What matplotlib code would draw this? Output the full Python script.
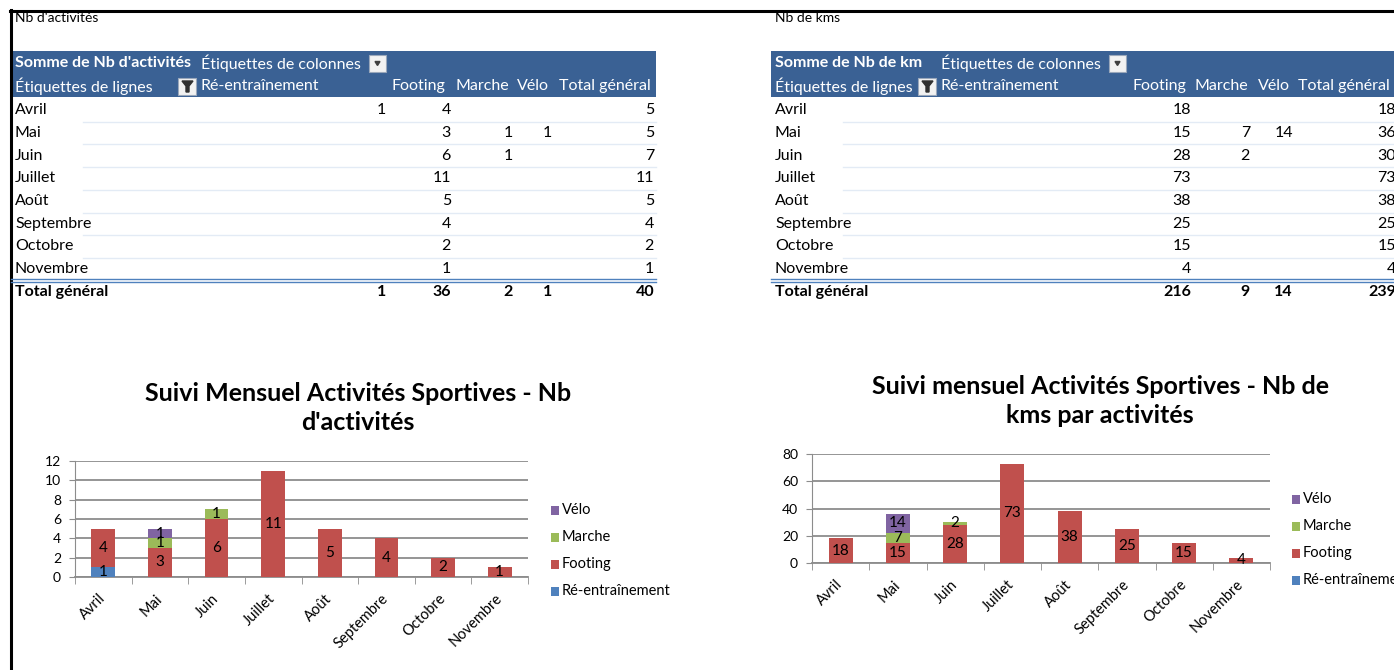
import matplotlib
matplotlib.use("Agg")
import matplotlib.pyplot as plt
from matplotlib.patches import Rectangle, Polygon
import numpy as np

plt.rcParams['font.family'] = ['Lato', 'DejaVu Sans']

# ---- data ----
months = ["Avril", "Mai", "Juin", "Juillet", "Août", "Septembre", "Octobre", "Novembre"]
activities = ["Ré-entraînement", "Footing", "Marche", "Vélo"]

nb_reentr = [1, None, None, None, None, None, None, None]
nb_footing = [4, 3, 6, 11, 5, 4, 2, 1]
nb_marche = [None, 1, 1, None, None, None, None, None]
nb_velo = [None, 1, None, None, None, None, None, None]

km_reentr = [None, None, None, None, None, None, None, None]
km_footing = [18, 15, 28, 73, 38, 25, 15, 4]
km_marche = [None, 7, 2, None, None, None, None, None]
km_velo = [None, 14, None, None, None, None, None, None]

colors = ["#4F81BD", "#C0504D", "#9BBB59", "#8064A2"]
header_blue = "#3A6194"
FS = 11.5

W, H = 1394, 670
fig = plt.figure(figsize=(W / 100, H / 100), dpi=100)
fig.patch.set_facecolor("white")

ov = fig.add_axes([0, 0, 1, 1])
ov.set_xlim(0, W)
ov.set_ylim(H, 0)
ov.axis("off")
ov.patch.set_alpha(0)

# frame lines of the screenshot
ov.plot([10, W], [10.5, 10.5], color="black", lw=2.2)
ov.plot([10.5, 10.5], [10, H], color="black", lw=2.2)


def fmt(v):
    return "" if v is None else str(v)


def col_sum(vals):
    s = [v for v in vals if v is not None]
    return sum(s) if s else None


def draw_table(x0, x1, caption, header, series, num_r, head_r, col_x, drop_x, filt_x):
    ov.text(x0 + 4, 18, caption, fontsize=10, va="center", ha="left")
    ov.add_patch(Rectangle((x0, 51), x1 - x0, 46, color=header_blue, lw=0))
    ov.text(x0 + 4, 63, header, fontsize=FS, color="white", weight="bold", va="center")
    ov.text(col_x, 63, "Étiquettes de colonnes", fontsize=FS, color="white", va="center")
    # dropdown box
    ov.add_patch(Rectangle((drop_x, 55), 17, 17, facecolor="#f2f2f2", edgecolor="#9aa8bb", lw=0.8))
    ov.add_patch(Polygon([[drop_x + 6, 61.5], [drop_x + 11, 61.5], [drop_x + 8.5, 65.5]], color="#404040"))
    ov.text(x0 + 4, 86, "Étiquettes de lignes", fontsize=FS, color="white", va="center")
    # filter icon
    ov.add_patch(Rectangle((filt_x, 78), 18, 17, facecolor="#f2f2f2", edgecolor="#9aa8bb", lw=0.8))
    ov.add_patch(Polygon([[filt_x + 4, 81], [filt_x + 15, 81], [filt_x + 11, 86], [filt_x + 11, 92],
                          [filt_x + 8, 92], [filt_x + 8, 86]], color="#303030"))
    ov.text(col_x, 86, activities[0], fontsize=FS, color="white", va="center")
    for name, xr in zip(activities[1:] + ["Total général"], head_r):
        ov.text(xr, 86, name, fontsize=FS, color="white", va="center", ha="right")

    row_h = 22.75
    for i, m in enumerate(months):
        y = 110 + i * row_h
        ov.text(x0 + 4, y, m, fontsize=FS, va="center")
        vals = [s[i] for s in series]
        row_total = col_sum(vals)
        for v, xr in zip(vals + [row_total], num_r):
            ov.text(xr, y, fmt(v), fontsize=FS, va="center", ha="right")
        if i < len(months) - 1:
            ov.plot([x0 + 72, x1], [y + 11.5, y + 11.5], color="#e3ebf5", lw=1)
    ov.plot([x0, x1], [278.5, 278.5], color="#4F81BD", lw=1)
    ov.plot([x0, x1], [281.5, 281.5], color="#4F81BD", lw=1)
    ov.text(x0 + 4, 292, "Total général", fontsize=FS, weight="bold", va="center")
    col_totals = [col_sum(s) for s in series]
    grand = col_sum(col_totals)
    for v, xr in zip(col_totals + [grand], num_r):
        ov.text(xr, 292, fmt(v), fontsize=FS, weight="bold", va="center", ha="right")


draw_table(11, 656, "Nb d'activités", "Somme de Nb d'activités",
           [nb_reentr, nb_footing, nb_marche, nb_velo],
           [386, 451, 513, 552, 654], [445, 509, 549, 651], 201, 369, 178)
draw_table(771, W, "Nb de kms", "Somme de Nb de km",
           [km_reentr, km_footing, km_marche, km_velo],
           [1260, 1191, 1250, 1293, 1396], [1186, 1248, 1290, 1390], 941, 1109, 918)


def draw_chart(box, series, ymax, ystep, title, title_xy, leg_x, leg_y):
    left, top, right, bottom = box
    ax = fig.add_axes([left / W, 1 - bottom / H, (right - left) / W, (bottom - top) / H])
    x = np.arange(len(months)) + 0.5
    base = np.zeros(len(months))
    for s, c in zip(series, colors):
        v = np.array([0 if a is None else a for a in s], dtype=float)
        ax.bar(x, v, 0.42, bottom=base, color=c, zorder=3)
        for xi, b, vi in zip(x, base, v):
            if vi > 0:
                ax.text(xi, b + vi / 2, str(int(vi)), ha="center", va="center",
                        fontsize=11, color="black", zorder=4)
        base = base + v
    ax.set_xlim(0, len(months))
    ax.set_ylim(0, ymax)
    ax.set_yticks(np.arange(0, ymax + 1, ystep))
    ax.grid(axis="y", color="#8c8c8c", lw=1.3, zorder=1)
    ax.set_xticks(x)
    ax.set_xticklabels(months, rotation=45, ha="right", va="center", rotation_mode="anchor")
    ax.set_xticks(np.arange(len(months) + 1), minor=True)
    ax.tick_params(axis="x", which="major", length=0, pad=14, labelsize=10.5)
    ax.tick_params(axis="x", which="minor", length=5, color="#8c8c8c", direction="out")
    ax.tick_params(axis="y", length=4, color="#8c8c8c", labelsize=10, pad=6)
    for side in ["top", "right"]:
        ax.spines[side].set_visible(False)
    ax.spines["left"].set_color("#8c8c8c")
    ax.spines["bottom"].set_color("#8c8c8c")
    ax.spines["bottom"].set_linewidth(1.3)
    ax.set_facecolor("none")

    ov.text(title_xy[0], title_xy[1], title, fontsize=18, weight="bold",
            ha="center", va="center", linespacing=1.3)
    for i, (name, c) in enumerate(zip(activities[::-1], colors[::-1])):
        yy = leg_y + i * 27
        ov.add_patch(Rectangle((leg_x, yy - 4.5), 8, 9, color=c, lw=0))
        ov.text(leg_x + 11, yy, name, fontsize=10.5, va="center")


draw_chart((75, 461, 528, 577), [nb_reentr, nb_footing, nb_marche, nb_velo], 12, 2,
           "Suivi Mensuel Activités Sportives - Nb\nd'activités", (358, 408), 551, 510)
draw_chart((812, 454, 1270, 563), [km_reentr, km_footing, km_marche, km_velo], 80, 20,
           "Suivi mensuel Activités Sportives - Nb de\nkms par activités", (1100, 401), 1292, 499)

fig.savefig("out.png", dpi=100)
